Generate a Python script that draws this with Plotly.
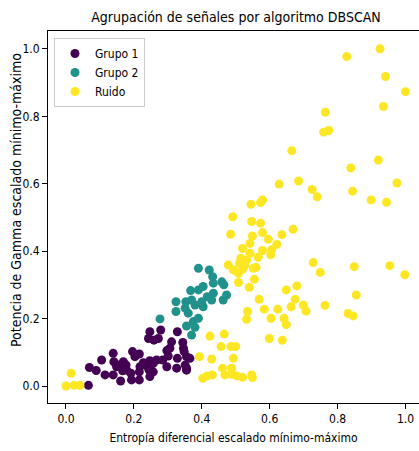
import plotly.graph_objects as go

# Grupo 1 (cluster 0)
g1_x = [0.066, 0.069, 0.089, 0.105, 0.115, 0.139, 0.139, 0.141, 0.149, 0.157,
        0.161, 0.167, 0.169, 0.177, 0.179, 0.191, 0.193, 0.196, 0.203, 0.216,
        0.216, 0.216, 0.218, 0.228, 0.236, 0.243, 0.245, 0.247, 0.247, 0.247,
        0.257, 0.257, 0.267, 0.285, 0.297, 0.301, 0.297, 0.306, 0.311, 0.243,
        0.272, 0.259, 0.247, 0.279, 0.328, 0.344, 0.348, 0.355, 0.328, 0.365,
        0.355, 0.351, 0.326, 0.355, 0.346]
g1_y = [0.002, 0.055, 0.046, 0.077, 0.033, 0.033, 0.097, 0.072, 0.057, 0.062,
        0.015, 0.045, 0.072, 0.062, 0.047, 0.038, 0.018, 0.102, 0.087, 0.095,
        0.042, 0.018, 0.057, 0.069, 0.067, 0.053, 0.047, 0.057, 0.028, 0.075,
        0.067, 0.042, 0.077, 0.077, 0.057, 0.089, 0.105, 0.112, 0.131, 0.141,
        0.141, 0.136, 0.161, 0.166, 0.161, 0.129, 0.102, 0.087, 0.082, 0.082,
        0.053, 0.062, 0.053, 0.047, 0.112]

# Grupo 2 (cluster 1)
g2_x = [0.390, 0.422, 0.432, 0.459, 0.465, 0.434, 0.404, 0.390, 0.367, 0.473,
        0.463, 0.434, 0.416, 0.429, 0.400, 0.370, 0.353, 0.324, 0.404, 0.380,
        0.351, 0.324, 0.360, 0.390, 0.375, 0.355, 0.380, 0.370, 0.277]
g2_y = [0.349, 0.344, 0.324, 0.309, 0.300, 0.305, 0.295, 0.285, 0.283, 0.270,
        0.255, 0.275, 0.265, 0.255, 0.250, 0.255, 0.250, 0.250, 0.235, 0.240,
        0.231, 0.221, 0.216, 0.201, 0.191, 0.178, 0.174, 0.151, 0.199]

# Ruido (label -1)
noise_x = [0.925, 0.827, 0.941, 1.000, 0.935, 0.764, 0.759, 0.774, 0.665, 0.920,
           0.839, 0.628, 0.685, 0.725, 0.740, 0.844, 0.899, 0.944, 0.975, 0.669,
           0.636, 0.728, 0.749, 0.849, 0.954, 0.998, 0.649, 0.680, 0.675, 0.663,
           0.699, 0.707, 0.763, 0.855, 0.831, 0.846, 0.624, 0.642, 0.649, 0.637,
           0.545, 0.579, 0.573, 0.491, 0.547, 0.573, 0.485, 0.549, 0.579, 0.596,
           0.542, 0.520, 0.621, 0.606, 0.603, 0.579, 0.542, 0.566, 0.515, 0.532,
           0.478, 0.511, 0.527, 0.493, 0.520, 0.552, 0.560, 0.508, 0.555, 0.508,
           0.540, 0.569, 0.584, 0.535, 0.532, 0.604, 0.599, 0.424, 0.466, 0.457,
           0.486, 0.500, 0.493, 0.429, 0.393, 0.461, 0.488, 0.468, 0.488, 0.503,
           0.520, 0.547, 0.549, 0.431, 0.416, 0.403, 0.015, 0.000, 0.024, 0.041]
noise_y = [1.000, 0.977, 0.918, 0.873, 0.829, 0.812, 0.753, 0.758, 0.698, 0.670,
           0.647, 0.599, 0.608, 0.583, 0.561, 0.578, 0.552, 0.545, 0.602, 0.465,
           0.449, 0.366, 0.337, 0.354, 0.357, 0.330, 0.285, 0.297, 0.257, 0.235,
           0.240, 0.222, 0.239, 0.270, 0.215, 0.208, 0.228, 0.201, 0.182, 0.136,
           0.539, 0.552, 0.544, 0.502, 0.488, 0.483, 0.450, 0.445, 0.455, 0.435,
           0.423, 0.408, 0.420, 0.404, 0.389, 0.402, 0.394, 0.382, 0.379, 0.374,
           0.359, 0.364, 0.359, 0.344, 0.346, 0.349, 0.352, 0.334, 0.317, 0.307,
           0.293, 0.257, 0.228, 0.221, 0.198, 0.201, 0.141, 0.148, 0.154, 0.117,
           0.117, 0.117, 0.082, 0.080, 0.087, 0.053, 0.053, 0.033, 0.035, 0.030,
           0.026, 0.033, 0.025, 0.033, 0.030, 0.023, 0.038, 0.000, 0.002, 0.002]

tick_vals = [0.0, 0.2, 0.4, 0.6, 0.8, 1.0]
tick_text = ["0.0", "0.2", "0.4", "0.6", "0.8", "1.0"]

FONT = "DejaVu Sans Condensed, DejaVu Sans, sans-serif"
W, H = 419, 451
ML, MT, MB = 48, 31, 48

series = [
    ("Grupo 1", g1_x, g1_y, "#440154"),
    ("Grupo 2", g2_x, g2_y, "#21918c"),
    ("Ruido", noise_x, noise_y, "#fde725"),
]

fig = go.Figure()
for name, xs, ys, color in series:
    fig.add_trace(go.Scatter(
        x=xs, y=ys, mode="markers", name=name,
        marker=dict(color=color, size=9, line=dict(width=0)),
    ))

axis_common = dict(
    showgrid=False, zeroline=False,
    showline=True, linecolor="black", linewidth=1,
    ticks="outside", ticklen=5, tickwidth=1, tickcolor="black",
    tickfont=dict(family=FONT, size=12, color="black"),
    tickvals=tick_vals, ticktext=tick_text,
)

fig.update_layout(
    width=W, height=H,
    margin=dict(l=ML, r=0, t=MT, b=MB, autoexpand=False),
    paper_bgcolor="white", plot_bgcolor="white",
    font=dict(family=FONT, color="black"),
    title=dict(
        text="Agrupación de señales por algoritmo DBSCAN",
        font=dict(family=FONT, size=14, color="black"),
        x=236 / W, xref="container", xanchor="center",
        y=1 - 17 / H, yref="container", yanchor="middle",
    ),
    xaxis=dict(
        range=[-0.053, 1.0398], mirror=True,
        title=dict(text="Entropía diferencial escalado mínimo-máximo",
                   font=dict(family=FONT, size=12, color="black"),
                   standoff=8),
        automargin=False,
        **axis_common,
    ),
    yaxis=dict(
        range=[-0.0504, 1.053], mirror=False,
        automargin=False,
        **axis_common,
    ),
    legend=dict(
        x=(54 - ML) / (W - ML), y=(H - MB - 38) / (H - MT - MB),
        xanchor="left", yanchor="top",
        bgcolor="rgba(255,255,255,0.8)", bordercolor="#cccccc", borderwidth=1,
        font=dict(family=FONT, size=12, color="black"),
        itemwidth=30,
    ),
    showlegend=True,
    annotations=[dict(
        text="Potencia de Gamma escalado mínimo-máximo",
        textangle=-90, showarrow=False,
        xref="paper", yref="paper",
        x=-(ML - 16) / (W - ML), xanchor="center",
        y=(H - MB - 200) / (H - MT - MB), yanchor="middle",
        font=dict(family=FONT, size=14, color="black"),
    )],
)

fig.write_html("out.html")
